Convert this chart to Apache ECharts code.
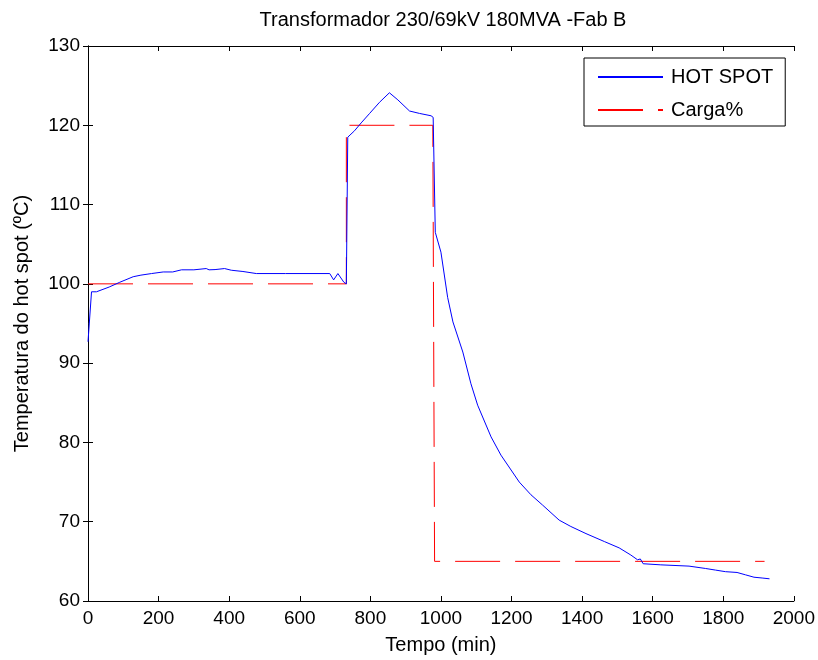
<!DOCTYPE html>
<html>
<head>
<meta charset="utf-8">
<script src="https://cdn.jsdelivr.net/npm/echarts@6/dist/echarts.min.js"></script>
<style>html,body{margin:0;padding:0;background:#fff;}#c{width:818px;height:660px;}</style>
</head>
<body>
<div id="c"></div>
<script>
var titleText = 'Transformador 230/69kV 180MVA -Fab B';
var xName = 'Tempo (min)';
var yName = 'Temperatura do hot spot (ºC)';
var seriesNames = ['HOT SPOT', 'Carga%'];

var hotX = [0, 10, 24, 60, 90, 128, 150, 180, 213, 240, 265, 300, 335, 343, 360, 387, 406, 439, 477, 560, 685, 696, 708, 725, 732, 736, 755, 774, 798, 826, 854, 878, 911, 939, 972, 978, 984, 1000, 1019, 1034, 1062, 1085, 1104, 1142, 1170, 1222, 1255, 1288, 1335, 1368, 1411, 1463, 1505, 1538, 1557, 1565, 1573, 1623, 1703, 1750, 1778, 1806, 1839, 1863, 1887, 1910, 1931];
var hotY = [92.7, 99.0, 99.0, 99.6, 100.2, 100.9, 101.1, 101.3, 101.5, 101.5, 101.77, 101.77, 101.93, 101.77, 101.8, 101.93, 101.72, 101.56, 101.3, 101.3, 101.3, 100.5, 101.3, 100.2, 100.0, 118.5, 119.3, 120.3, 121.5, 122.9, 124.1, 123.2, 121.8, 121.5, 121.2, 121.0, 106.5, 104.0, 98.3, 95.2, 91.4, 87.4, 84.7, 80.7, 78.4, 75.0, 73.4, 72.1, 70.2, 69.4, 68.5, 67.5, 66.7, 65.8, 65.2, 65.3, 64.7, 64.56, 64.4, 64.1, 63.9, 63.7, 63.6, 63.3, 63.0, 62.9, 62.8];

var cargaX = [0, 732, 732, 977, 982, 1917];
var cargaY = [100, 100, 120, 120, 65, 65];

function zip(a, b) { var r = []; for (var i = 0; i < a.length; i++) r.push([a[i], b[i]]); return r; }

var FONT = 'Liberation Sans, Arial, Helvetica, sans-serif';
var TICKFS = 19, LABFS = 20;
var chart = echarts.init(document.getElementById('c'), null, {renderer: 'canvas'});

function axisBase(extra) {
  var o = {
    type: 'value',
    axisLine: {show: true, lineStyle: {color: '#000', width: 1}},
    axisTick: {show: true, inside: true, length: 5, lineStyle: {color: '#000', width: 1}},
    splitLine: {show: false},
    axisLabel: {color: '#000', fontSize: TICKFS, fontFamily: FONT, margin: 8,
      formatter: function (v) { return String(v); }},
    nameTextStyle: {color: '#000', fontSize: LABFS, fontFamily: FONT}
  };
  for (var k in extra) o[k] = extra[k];
  return o;
}

chart.setOption({
  animation: false,
  backgroundColor: '#fff',
  title: {
    text: titleText, left: 443, top: 10, textAlign: 'center', padding: 0,
    textStyle: {color: '#000', fontSize: LABFS, fontWeight: 'normal', fontFamily: FONT}
  },
  grid: {left: 88, right: 23, top: 46, bottom: 57, containLabel: false},
  legend: {
    orient: 'vertical', left: 584, top: 58,
    data: seriesNames,
    itemWidth: 65, itemHeight: 20, itemGap: 13,
    padding: [9, 12, 6, 13],
    borderColor: '#000', borderWidth: 1, borderRadius: 0,
    backgroundColor: '#fff',
    itemStyle: {opacity: 0},
    textStyle: {color: '#000', fontSize: LABFS, fontFamily: FONT, padding: [0, 0, 0, 3]},
    selectedMode: false
  },
  xAxis: [
    axisBase({min: 0, max: 2000, interval: 200, position: 'bottom',
      name: xName, nameLocation: 'middle', nameGap: 34}),
    axisBase({min: 0, max: 2000, interval: 200, position: 'top', axisLabel: {show: false}})
  ],
  yAxis: [
    axisBase({min: 60, max: 130, interval: 10, position: 'left',
      name: yName, nameLocation: 'middle', nameGap: 56, nameRotate: 90}),
    axisBase({min: 60, max: 130, interval: 10, position: 'right', axisLabel: {show: false}})
  ],
  series: [
    {
      name: seriesNames[0], type: 'line', xAxisIndex: 0, yAxisIndex: 0,
      data: zip(hotX, hotY), showSymbol: false, symbol: 'none',
      lineStyle: {color: '#0000ff', width: 1}, itemStyle: {color: '#0000ff'},
      z: 3
    },
    {
      name: seriesNames[1], type: 'line', xAxisIndex: 0, yAxisIndex: 0,
      data: zip(cargaX, cargaY), showSymbol: false, symbol: 'none',
      lineStyle: {color: '#ff0000', width: 1, type: [45, 15]}, itemStyle: {color: '#ff0000'},
      z: 2
    }
  ]
});
</script>
</body>
</html>
